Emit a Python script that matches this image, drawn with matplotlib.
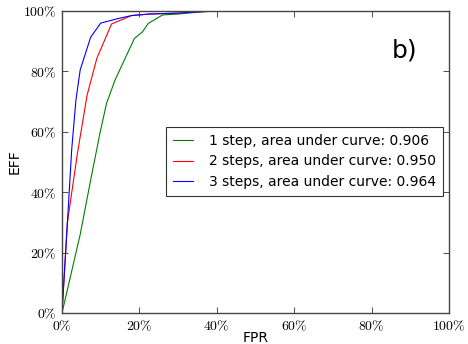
import matplotlib
matplotlib.use("Agg")
import matplotlib.pyplot as plt

plt.rcParams['mathtext.fontset'] = 'cm'

fpr_1 = [0.0, 0.047, 0.074, 0.098, 0.115, 0.137, 0.163, 0.187, 0.208, 0.223, 0.260, 0.30, 0.36, 0.40, 1.0]
eff_1 = [0.0, 0.26, 0.44, 0.595, 0.694, 0.771, 0.843, 0.909, 0.931, 0.959, 0.987, 0.990, 0.997, 1.0, 1.0]

fpr_2 = [0.0, 0.014, 0.040, 0.065, 0.090, 0.128, 0.180, 0.227, 0.30, 0.36, 0.40, 1.0]
eff_2 = [0.0, 0.30, 0.53, 0.722, 0.843, 0.957, 0.985, 0.990, 0.993, 0.998, 1.0, 1.0]

fpr_3 = [0.0, 0.014, 0.025, 0.036, 0.047, 0.074, 0.100, 0.145, 0.180, 0.227, 0.30, 0.36, 0.40, 1.0]
eff_3 = [0.0, 0.30, 0.54, 0.705, 0.805, 0.913, 0.960, 0.975, 0.985, 0.990, 0.993, 0.998, 1.0, 1.0]

labels = ["1 step, area under curve: 0.906",
          "2 steps, area under curve: 0.950",
          "3 steps, area under curve: 0.964"]
colors = ["green", "red", "blue"]
ticks = [0, 0.2, 0.4, 0.6, 0.8, 1.0]
tick_labels = [r"$0\%$", r"$20\%$", r"$40\%$", r"$60\%$", r"$80\%$", r"$100\%$"]

fig = plt.figure(figsize=(4.68, 3.44), dpi=100)
ax = fig.add_axes([62/468, 1-313/344, 387/468, 302/344])

for x, y, lab, c in zip([fpr_1, fpr_2, fpr_3], [eff_1, eff_2, eff_3], labels, colors):
    ax.plot(x, y, color=c, lw=0.8, label=lab)

ax.set_xlim(0, 1)
ax.set_ylim(0, 1)
ax.set_xticks(ticks)
ax.set_xticklabels(tick_labels, fontsize=10)
ax.set_yticks(ticks)
ax.set_yticklabels(tick_labels, fontsize=10)
ax.tick_params(direction='in', top=True, right=True, length=4, width=0.6, pad=4, colors='#333333')
ax.tick_params(labelcolor='black')
for s in ax.spines.values():
    s.set_color('#444444')
    s.set_linewidth(1.0)

ax.set_xlabel("FPR", fontsize=10, labelpad=-1.5)
ax.set_ylabel("EFF", fontsize=10, labelpad=1)

ax.text(0.886, 0.87, "b)", transform=ax.transAxes, fontsize=18, ha='center', va='center')

leg = ax.legend(loc='center right', bbox_to_anchor=(0.984, 0.502), fontsize=10,
                frameon=True, fancybox=False, edgecolor='black', handlelength=1.5,
                handletextpad=1.1, borderpad=0.5, labelspacing=0.45, borderaxespad=0)
leg.get_frame().set_linewidth(0.8)

fig.savefig("out.png", dpi=100)
